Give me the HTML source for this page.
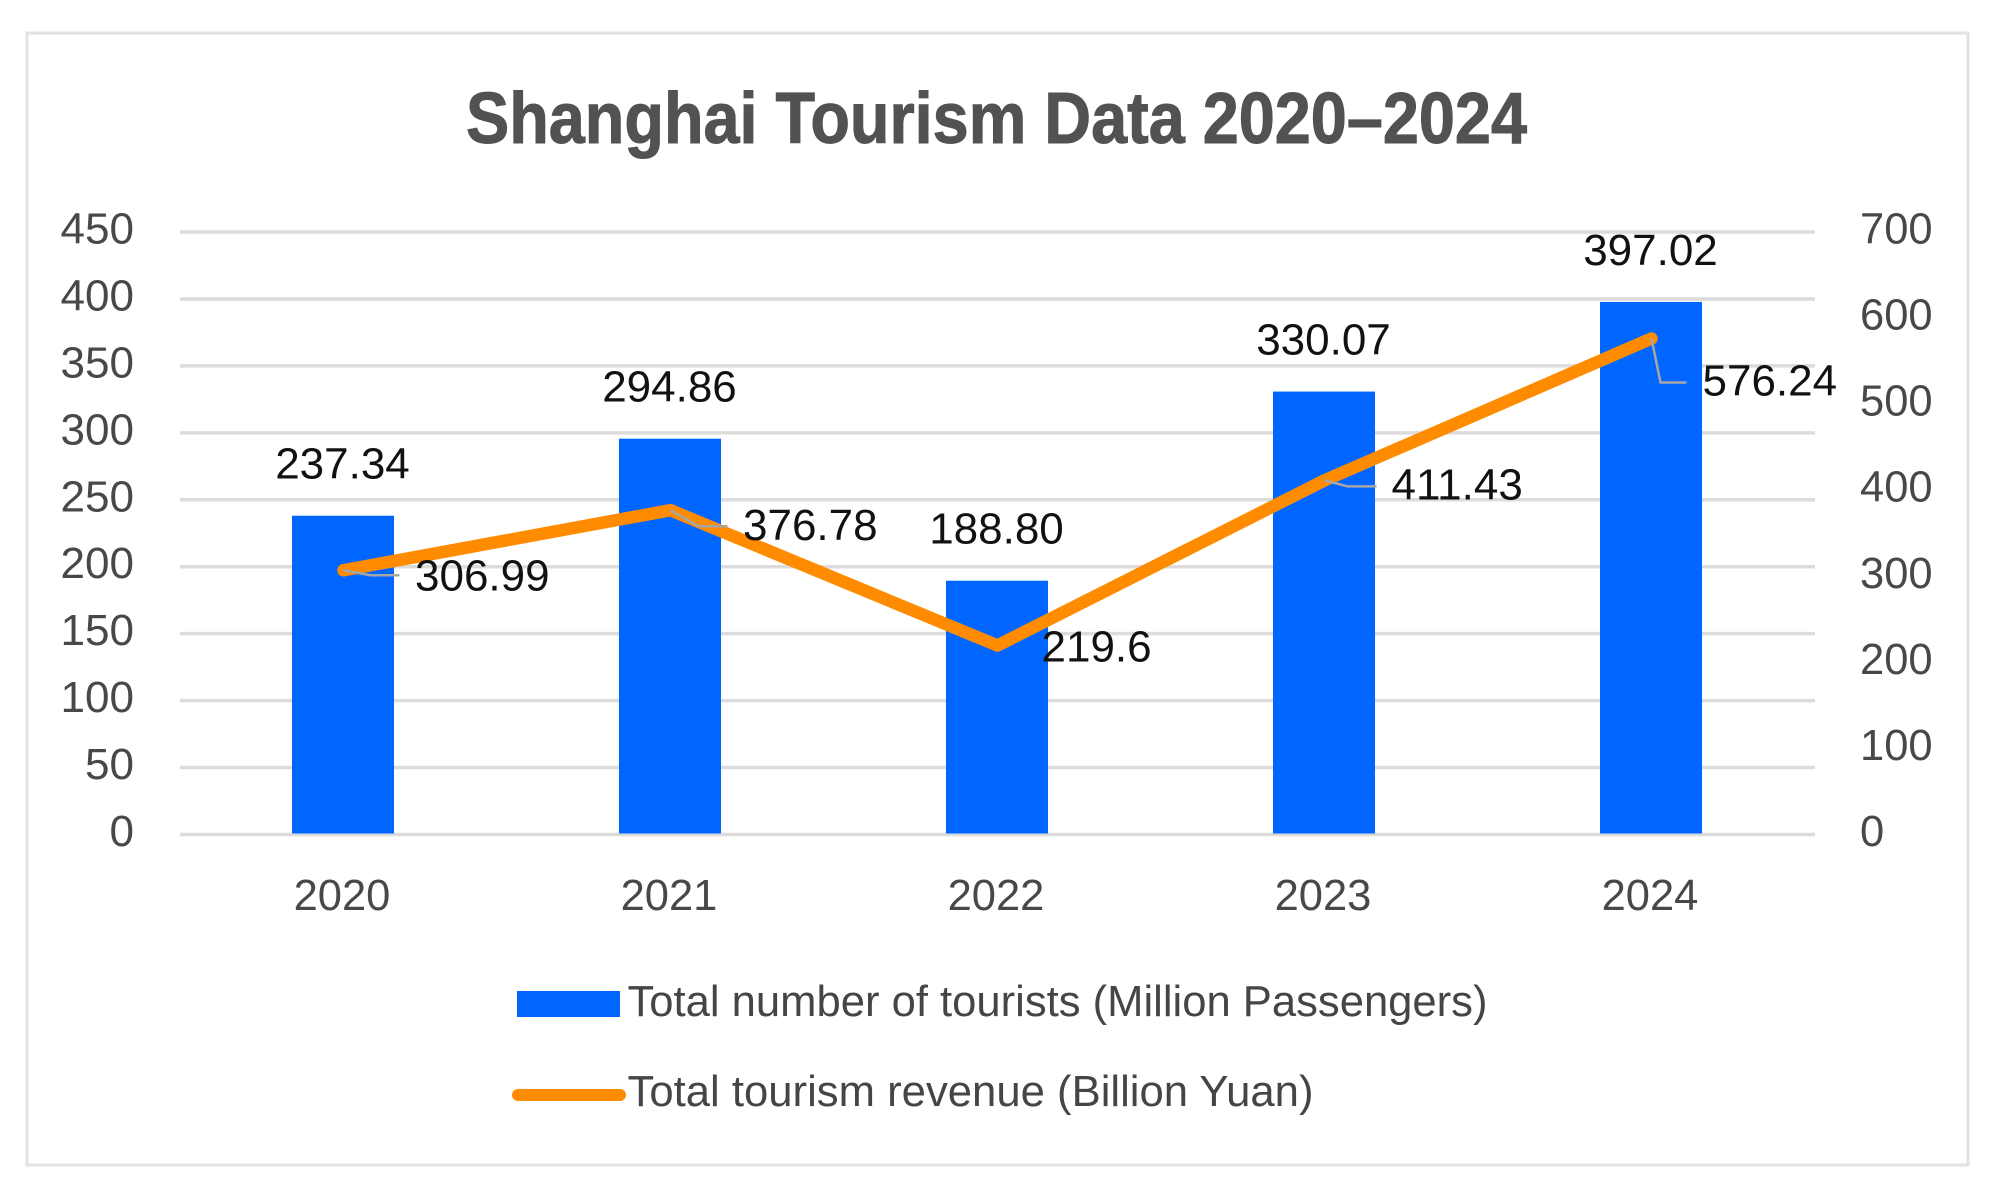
<!DOCTYPE html>
<html lang="en">
<head>
<meta charset="utf-8">
<title>Shanghai Tourism Data 2020–2024</title>
<style>
  html, body { margin: 0; padding: 0; background: #ffffff; }
  svg { display: block; font-family: "Liberation Sans", Arial, sans-serif; }
</style>
</head>
<body>
<svg id="chart" xmlns="http://www.w3.org/2000/svg" width="2007" height="1199" viewBox="0 0 2007 1199">
  <rect x="27" y="33" width="1941" height="1132" fill="#ffffff" stroke="#e2e2e2" stroke-width="3"/>
  <text x="466" y="143" font-size="72" font-weight="700" fill="#525252" stroke="#525252" stroke-width="1" textLength="1061" lengthAdjust="spacingAndGlyphs">Shanghai Tourism Data 2020–2024</text>
  <g id="grid"></g>
  <g id="bars"></g>
  <g id="line"></g>
  <g id="leaders"></g>
  <g id="labels"></g>
  <g id="axes"></g>
  <g>
    <g>
      <rect x="517" y="991" width="103" height="26" fill="#0066ff"/>
      <text x="627.5" y="1016" font-size="44" fill="#454545" textLength="860" lengthAdjust="spacingAndGlyphs">Total number of tourists (Million Passengers)</text>
    </g>
    <g>
      <line x1="518" y1="1095" x2="620" y2="1095" stroke="#ff8c00" stroke-width="12" stroke-linecap="round"/>
      <text x="627.5" y="1106" font-size="44" fill="#454545" textLength="686" lengthAdjust="spacingAndGlyphs">Total tourism revenue (Billion Yuan)</text>
    </g>
  </g>
</svg>
<script>
const categories = ["2020", "2021", "2022", "2023", "2024"];
const touristValues = [237.34, 294.86, 188.80, 330.07, 397.02];
const touristLabels = ["237.34", "294.86", "188.80", "330.07", "397.02"];
const revenueValues = [306.99, 376.78, 219.6, 411.43, 576.24];
const revenueLabels = ["306.99", "376.78", "219.6", "411.43", "576.24"];
const leftTicks = [0, 50, 100, 150, 200, 250, 300, 350, 400, 450];
const rightTicks = [0, 100, 200, 300, 400, 500, 600, 700];

const NS = "http://www.w3.org/2000/svg";
const plot = { left: 180, right: 1815, top: 232, bottom: 834.5 };
const leftMax = 450, rightMax = 700;
const bandWidth = (plot.right - plot.left) / categories.length;
const barWidth = 102;

function xCenter(i) { return plot.left + bandWidth * (i + 0.5); }
function yLeft(v) { return plot.bottom - (v / leftMax) * (plot.bottom - plot.top); }
function yRight(v) { return plot.bottom - (v / rightMax) * (plot.bottom - plot.top); }

function make(tag, attrs, text) {
  const el = document.createElementNS(NS, tag);
  for (const k in attrs) el.setAttribute(k, attrs[k]);
  if (text !== undefined) el.textContent = text;
  return el;
}

const grid = document.getElementById("grid");
const bars = document.getElementById("bars");
const line = document.getElementById("line");
const leaders = document.getElementById("leaders");
const labels = document.getElementById("labels");
const axes = document.getElementById("axes");

/* gridlines and left axis */
leftTicks.forEach(function (t) {
  const y = yLeft(t);
  const g = make("line", { x1: plot.left, x2: plot.right, y1: y, y2: y, stroke: "#dcdcdc", "stroke-width": 3.5 });
  
  
  grid.appendChild(g);
  const lab = make("text", { x: 134, y: y + 11.5, "font-size": 43.5, "text-anchor": "end", fill: "#484848", textLength: 73.5, lengthAdjust: "spacingAndGlyphs" }, String(t));
  if (String(t).length < 3) lab.setAttribute("textLength", String(t).length * 24.5);
  
  
  axes.appendChild(lab);
});

/* right axis */
rightTicks.forEach(function (t) {
  const lab = make("text", { x: 1860, y: yRight(t) + 11.5, "font-size": 43.5, fill: "#484848" }, String(t));
  
  
  axes.appendChild(lab);
});

/* category labels */
categories.forEach(function (c, i) {
  const lab = make("text", { x: xCenter(i) - 1.5, y: 910, "font-size": 43.5, "text-anchor": "middle", fill: "#484848" }, c);
  
  
  axes.appendChild(lab);
});

/* bars and their value labels */
touristValues.forEach(function (v, i) {
  const top = yLeft(v) - 1;
  const r = make("rect", { x: xCenter(i) - barWidth / 2 - 0.5, y: top, width: barWidth, height: yLeft(0) - yLeft(v), fill: "#0066ff" });
  
  
  bars.appendChild(r);
  const lab = make("text", { x: xCenter(i) - 1, y: top - 37, "font-size": 44, "text-anchor": "middle", fill: "#111111" }, touristLabels[i]);
  
  
  labels.appendChild(lab);
});

/* revenue line */
const linePoints = revenueValues.map(function (v, i) { return xCenter(i) + "," + yRight(v); }).join(" ");
const poly = make("polyline", { points: linePoints, fill: "none", stroke: "#ff8c00", "stroke-width": 12.5, "stroke-linecap": "round", "stroke-linejoin": "round" });


line.appendChild(poly);

/* manually placed label offsets, relative to each line point */
const labelDx = [71.5, 72.5, 44, 67, 51];
const labelDy = [20, 30, 16, 19, 57];
const elbowDx = [27, 28, 0, 23, 9];
const elbowDy = [5, 16, 0, 6, 44];
const endDx = [56, 57, 0, 52, 35];

revenueValues.forEach(function (v, i) {
  const px = xCenter(i), py = yRight(v);
  if (endDx[i] > 0) {
    const pts = [px, py, px + elbowDx[i], py + elbowDy[i], px + endDx[i], py + elbowDy[i]].join(" ");
    const l = make("polyline", { points: pts, fill: "none", stroke: "#a6a6a6", "stroke-width": 2.5 });
    
    
    leaders.appendChild(l);
  }
  const lab = make("text", { x: px + labelDx[i], y: py + labelDy[i], "font-size": 44, fill: "#111111" }, revenueLabels[i]);
  
  
  labels.appendChild(lab);
});
</script>
</body>
</html>
